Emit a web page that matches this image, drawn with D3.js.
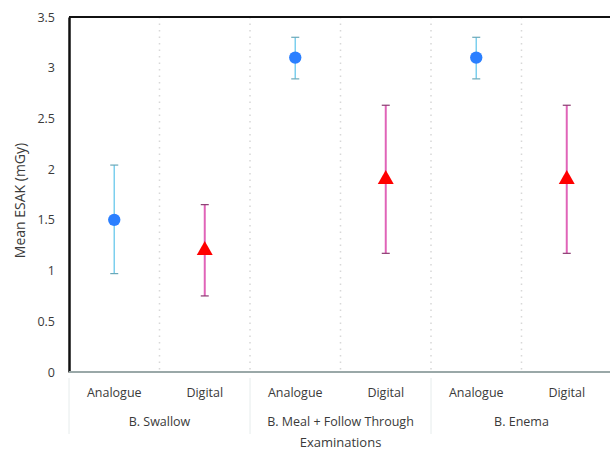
<!DOCTYPE html>
<html>
<head>
<meta charset="utf-8">
<script src="https://cdn.jsdelivr.net/npm/d3@7"></script>
<style>
  body { margin: 0; background: #fff; }
  text { font-family: "Open Sans", "Liberation Sans", sans-serif; fill: #3a3a3a; }
</style>
</head>
<body>
<div id="chart"></div>
<script>
/* chart data */
var categories = ["Analogue", "Digital", "Analogue", "Digital", "Analogue", "Digital"];
var groups = ["B. Swallow", "B. Meal + Follow Through", "B. Enema"];
var means = [1.5, 1.2, 3.1, 1.9, 3.1, 1.9];
var lows = [0.97, 0.75, 2.89, 1.17, 2.89, 1.17];
var highs = [2.04, 1.65, 3.30, 2.63, 3.30, 2.63];
var yTicks = [0, 0.5, 1, 1.5, 2, 2.5, 3, 3.5];

var width = 610, height = 452;
var plotLeft = 69, plotTop = 17, plotBottom = 372, plotRight = 612;

var svg = d3.select("#chart").append("svg")
    .attr("width", width)
    .attr("height", height);

var x = d3.scaleBand().domain(d3.range(categories.length)).range([plotLeft, plotRight]);
var y = d3.scaleLinear().domain([0, 3.5]).range([plotBottom, plotTop]);

var points = categories.map(function (c, i) {
    return { cat: c, i: i, mean: means[i], lo: lows[i], hi: highs[i] };
});

/* dotted vertical gridlines between categories */
svg.selectAll(".grid")
    .data(d3.range(1, categories.length))
    .enter().append("line")
    .attr("x1", function (d) { return x(d); })
    .attr("x2", function (d) { return x(d); })
    .attr("y1", plotTop)
    .attr("y2", plotBottom)
    .attr("stroke", "#d8d8d8")
    .attr("stroke-width", 1.5)
    .attr("stroke-dasharray", "1.5,5");

/* top border */
svg.append("line")
    .attr("x1", plotLeft).attr("x2", width)
    .attr("y1", plotTop).attr("y2", plotTop)
    .attr("stroke", "#111").attr("stroke-width", 2);

/* y axis */
var yAxis = d3.axisLeft(y).tickValues(yTicks).tickSize(0).tickPadding(14)
    .tickFormat(function (d) { return String(d); });
var gy = svg.append("g")
    .attr("transform", "translate(" + plotLeft + ",0)")
    .call(yAxis);
gy.select(".domain").attr("stroke", "#111").attr("stroke-width", 2.5);
gy.selectAll("text").style("font-size", "12.5px").attr("fill", "#3a3a3a")
    .style("font-family", "'Open Sans', 'Liberation Sans', sans-serif");

/* x axis line */
svg.append("line")
    .attr("x1", plotLeft).attr("x2", width)
    .attr("y1", plotBottom).attr("y2", plotBottom)
    .attr("stroke", "#9aa8a8").attr("stroke-width", 2);

/* category labels */
svg.selectAll(".cat")
    .data(points)
    .enter().append("text")
    .attr("x", function (d) { return x(d.i) + x.bandwidth() / 2; })
    .attr("y", 397)
    .attr("text-anchor", "middle")
    .style("font-size", "12.5px")
    .text(function (d) { return d.cat; });

/* group labels and separators */
svg.selectAll(".grp")
    .data(groups)
    .enter().append("text")
    .attr("x", function (d, i) { return x(i * 2) + x.bandwidth(); })
    .attr("y", 426)
    .attr("text-anchor", "middle")
    .style("font-size", "12.5px")
    .text(function (d) { return d; });

svg.selectAll(".sep")
    .data(d3.range(0, categories.length + 1, 2))
    .enter().append("line")
    .attr("x1", function (d) { return d < categories.length ? x(d) : plotRight; })
    .attr("x2", function (d) { return d < categories.length ? x(d) : plotRight; })
    .attr("y1", 378)
    .attr("y2", 434)
    .attr("stroke", "#e6ecec")
    .attr("stroke-width", 1);

/* axis titles */
svg.append("text")
    .attr("x", (plotLeft + plotRight) / 2)
    .attr("y", 447)
    .attr("text-anchor", "middle")
    .style("font-size", "13px")
    .text("Examinations");

svg.append("text")
    .attr("transform", "translate(25," + ((plotTop + plotBottom) / 2 + 6) + ") rotate(-90)")
    .attr("text-anchor", "middle")
    .style("font-size", "14px")
    .text("Mean ESAK (mGy)");

/* error bars */
function barColor(d) { return d.cat === "Analogue" ? "#7ccfee" : "#e064b8"; }
function capColor(d) { return d.cat === "Analogue" ? "#6aa8b8" : "#8a3a70"; }
var cx = function (d) { return x(d.i) + x.bandwidth() / 2; };

svg.selectAll(".err")
    .data(points)
    .enter().append("line")
    .attr("x1", cx).attr("x2", cx)
    .attr("y1", function (d) { return y(d.lo); })
    .attr("y2", function (d) { return y(d.hi); })
    .attr("stroke", barColor)
    .attr("stroke-width", function (d) { return d.cat === "Analogue" ? 1.5 : 2; });

["lo", "hi"].forEach(function (k) {
    svg.selectAll(".cap-" + k)
        .data(points)
        .enter().append("line")
        .attr("x1", function (d) { return cx(d) - 4; })
        .attr("x2", function (d) { return cx(d) + 4; })
        .attr("y1", function (d) { return y(d[k]); })
        .attr("y2", function (d) { return y(d[k]); })
        .attr("stroke", capColor)
        .attr("stroke-width", 1.2);
});

/* markers */
svg.selectAll(".mark")
    .data(points)
    .enter().append("path")
    .attr("transform", function (d) { return "translate(" + cx(d) + "," + y(d.mean) + ")"; })
    .attr("d", function (d) {
        return d.cat === "Analogue"
            ? d3.symbol().type(d3.symbolCircle).size(120)()
            : d3.symbol().type(d3.symbolTriangle).size(110)();
    })
    .attr("fill", function (d) { return d.cat === "Analogue" ? "#2a7fff" : "#ff0000"; });
</script>
</body>
</html>
